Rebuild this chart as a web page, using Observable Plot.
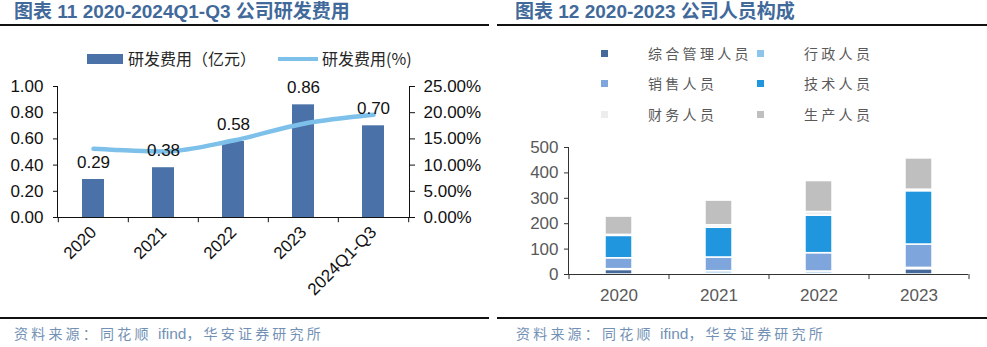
<!DOCTYPE html>
<html><head><meta charset="utf-8">
<script src="https://cdn.jsdelivr.net/npm/d3@7"></script>
<script src="https://cdn.jsdelivr.net/npm/@observablehq/plot@0.6"></script>
<style>
body{margin:0;background:#fff;}
#root{position:relative;width:987px;height:347px;overflow:hidden;font-family:"Liberation Sans","Noto Sans CJK SC",sans-serif;}
.title{position:absolute;top:2px;line-height:20px;font-family:"Liberation Sans","Noto Sans CJK SC",sans-serif;font-weight:bold;font-size:19px;color:#41699A;white-space:nowrap;}
.rule{position:absolute;height:2px;background:#111;}
.src{position:absolute;top:324px;line-height:18px;font-size:14px;color:#7391b5;letter-spacing:3.2px;white-space:nowrap;font-family:"Noto Sans CJK SC","Liberation Sans",sans-serif;}
.src span{letter-spacing:0;font-family:"Liberation Sans",sans-serif;font-size:15.5px;}
.plotbox{position:absolute;}
.lg{position:absolute;white-space:nowrap;line-height:20px;}
.lgtxt1{font-size:16px;color:#262626;font-family:"Noto Sans CJK SC","Liberation Sans",sans-serif;}
.lgtxt2{font-size:14px;color:#595959;letter-spacing:3.3px;font-family:"Noto Sans CJK SC",sans-serif;}
.sq{position:absolute;width:7px;height:7px;}
</style>
</head>
<body>
<div id="root">
  <div class="title" style="left:14px;">图表 11 2020-2024Q1-Q3 公司研发费用</div>
  <div class="title" style="left:515px;">图表 12 2020-2023 公司人员构成</div>
  <div class="rule" style="left:0;width:489px;top:24px;"></div>
  <div class="rule" style="left:497px;width:490px;top:24px;"></div>
  <div class="rule" style="left:0;width:489px;top:317px;height:1.5px;"></div>
  <div class="rule" style="left:497px;width:490px;top:317px;height:1.5px;"></div>
  <div class="src" style="left:14px;">资料来源：同花顺 <span>ifind</span>，华安证券研究所</div>
  <div class="src" style="left:516px;">资料来源：同花顺 <span>ifind</span>，华安证券研究所</div>
  <div id="legend1"></div>
  <div id="legend2"></div>
  <div class="plotbox" id="p1" style="left:0;top:76px;"></div>
  <div class="plotbox" id="p2" style="left:495px;top:135px;"></div>
</div>
<script>
// ---- Chart 11 data ----
const years1 = ["2020","2021","2022","2023","2024Q1-Q3"];
const rdExpense = [0.29,0.38,0.58,0.86,0.70];      // 亿元
const rdRatio = [13.1,12.6,14.7,17.9,19.6];         // %
const leftTicks = [0,0.2,0.4,0.6,0.8,1.0];
const rightTicks = [0,5,10,15,20,25];
const series1Names = ["研发费用（亿元）","研发费用(%)"];

// ---- Chart 12 data ----
const years2 = ["2020","2021","2022","2023"];
const roles = ["综合管理人员","行政人员","销售人员","技术人员","财务人员","生产人员"];
const mgmtStaff    = [18,3,3,21];
const adminStaff   = [3,10,9,5];
const salesStaff   = [43,54,72,92];
const techStaff    = [88,117,148,210];
const financeStaff = [4,10,14,6];
const prodStaff    = [72,97,122,123];
const staffTicks = [0,100,200,300,400,500];
const roleColors = ["#44699A","#8DC4EC","#7FA6DC","#1F96DE","#EDEDED","#BFBFBF"];

const barColor1 = "#4A72A8", lineColor1 = "#7DC0EA";

// ---- Legend 1 ----
const lg1 = document.getElementById("legend1");
lg1.innerHTML =
  `<div style="position:absolute;left:87px;top:54px;width:36px;height:10px;background:${barColor1}"></div>
   <div class="lg lgtxt1" style="left:128px;top:48px;">${series1Names[0]}</div>
   <div style="position:absolute;left:278px;top:57px;width:40px;height:4px;background:${lineColor1}"></div>
   <div class="lg lgtxt1" style="left:322px;top:48px;">${series1Names[1]}</div>`;

// ---- Legend 2 ----
const lg2 = document.getElementById("legend2");
const sqX = [601, 757], txX = [648, 804], rowY = [53, 83, 114];
roles.forEach((r, i) => {
  const col = i % 2, row = Math.floor(i / 2);
  lg2.insertAdjacentHTML("beforeend",
    `<div class="sq" style="left:${sqX[col]}px;top:${rowY[row]-3.5}px;background:${roleColors[i]}"></div>
     <div class="lg lgtxt2" style="left:${txX[col]}px;top:${rowY[row]-10}px;">${r}</div>`);
});

// ---- Plot 1 ----
const leftData = years1.map((y, i) => ({year: y, value: rdExpense[i], ratio: rdRatio[i]}));
const W1 = 490, ML1 = 57, MR1 = 81;
const step1 = (W1 - ML1 - MR1) / years1.length;
const p1 = Plot.plot({
  width: W1, height: 240, marginTop: 10, marginBottom: 99, marginLeft: ML1, marginRight: MR1,
  style: {fontFamily: '"Liberation Sans", Arial, sans-serif', fontSize: "17px", color: "#111", background: "transparent", overflow: "visible"},
  x: {domain: years1, paddingInner: 0.69, paddingOuter: 0.345},
  y: {domain: [0, 1]},
  marks: [
    Plot.barY(leftData, {x: "year", y: "value", fill: barColor1}),
    Plot.line(leftData, {x: "year", y: d => d.ratio / 25, stroke: lineColor1, strokeWidth: 4.5, curve: "monotone-x", strokeLinecap: "round"}),
    Plot.text(leftData, {x: "year", y: "value", text: d => d.value.toFixed(2), dy: -17, fontSize: 17, fill: "#111"}),
    Plot.axisY(leftTicks, {anchor: "left", label: null, tickSize: 4, tickPadding: 10, tickFormat: d => d.toFixed(2), stroke: "#111", fill: "#111"}),
    Plot.axisY(rightTicks.map(d => d / 25), {anchor: "right", label: null, tickSize: 5, tickPadding: 9, tickFormat: d => (d * 25).toFixed(2) + "%", stroke: "#111", fill: "#111"}),
    Plot.frame({anchor: "left", stroke: "#111"}),
    Plot.frame({anchor: "right", stroke: "#111"}),
    Plot.ruleY([0], {stroke: "#111"}),
    Plot.ruleX(years1, {x: d => d, dx: -step1 / 2, y1: 0, y2: -0.04, stroke: "#111"}),
    Plot.ruleX([years1[years1.length - 1]], {x: d => d, dx: step1 / 2, y1: 0, y2: -0.04, stroke: "#111"}),
    Plot.axisX(years1, {anchor: "bottom", label: null, tickSize: 0, tickPadding: 12, tickRotate: -45, fontSize: 17, fill: "#111"})
  ]
});
document.getElementById("p1").appendChild(p1);

// ---- Plot 2 ----
const seriesArr = [mgmtStaff, adminStaff, salesStaff, techStaff, financeStaff, prodStaff];
const stackData = [];
roles.forEach((r, j) => years2.forEach((y, i) => stackData.push({year: y, role: r, count: seriesArr[j][i]})));
const W2 = 492, ML2 = 73, MR2 = 19;
const step2 = (W2 - ML2 - MR2) / years2.length;
const p2 = Plot.plot({
  width: W2, height: 180, marginTop: 12, marginBottom: 41, marginLeft: ML2, marginRight: MR2,
  style: {fontFamily: '"Liberation Sans", Arial, sans-serif', fontSize: "17px", color: "#595959", background: "transparent", overflow: "visible"},
  x: {domain: years2, paddingInner: 0.73, paddingOuter: 0.365},
  y: {domain: [0, 500]},
  color: {domain: roles, range: roleColors},
  marks: [
    Plot.barY(stackData, {x: "year", y: "count", fill: "role", stroke: "white", strokeWidth: 1.5}),
    Plot.axisY(staffTicks, {anchor: "left", label: null, tickSize: 4, tickPadding: 6, stroke: "#333", fill: "#595959"}),
    Plot.frame({anchor: "left", stroke: "#333"}),
    Plot.ruleY([0], {stroke: "#333"}),
    Plot.ruleX(years2, {x: d => d, dx: -step2 / 2, y1: 0, y2: -20, stroke: "#333"}),
    Plot.ruleX([years2[years2.length - 1]], {x: d => d, dx: step2 / 2, y1: 0, y2: -20, stroke: "#333"}),
    Plot.axisX(years2, {anchor: "bottom", label: null, tickSize: 0, tickPadding: 14, fill: "#595959"})
  ]
});
document.getElementById("p2").appendChild(p2);
</script>
</body></html>
